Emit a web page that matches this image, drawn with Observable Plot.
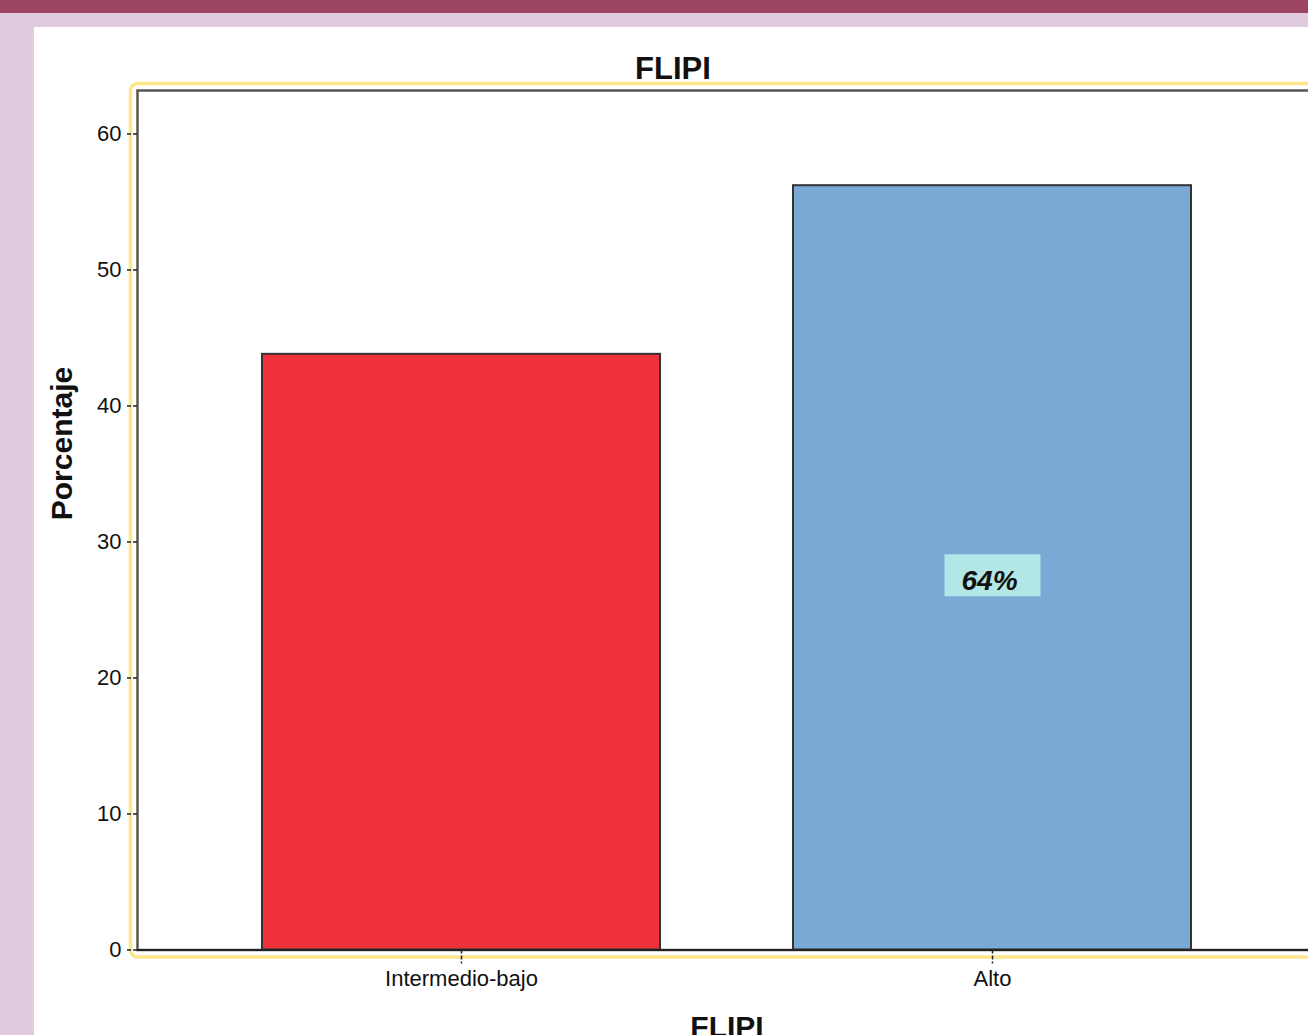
<!DOCTYPE html>
<html>
<head>
<meta charset="utf-8">
<script src="https://cdn.jsdelivr.net/npm/d3@7"></script>
<script src="https://cdn.jsdelivr.net/npm/@observablehq/plot@0.6"></script>
<style>
  html, body { margin: 0; padding: 0; }
  body { width: 1308px; height: 1035px; overflow: hidden; position: relative; background: #dfcade; font-family: "Liberation Sans", Arial, sans-serif; }
  #topbar { position: absolute; left: 0; top: 0; width: 100%; height: 13px; background: #9c4563; }
  #panel { position: absolute; left: 34px; top: 27px; right: 0; bottom: 0; background: #ffffff; }
  #chart { position: absolute; left: 0; top: 0; width: 1330px; }
  #chart svg { max-width: none !important; }
</style>
</head>
<body>
<div id="topbar"></div>
<div id="panel"></div>
<div id="chart"></div>
<script>
const categories = ["Intermedio-bajo", "Alto"];
const values = [43.8, 56.2];
const barColors = ["#ef3139", "#7aa9d6"];
const barLabels = ["", "64%"];
const yTicks = [0, 10, 20, 30, 40, 50, 60];
const chartTitle = "FLIPI";
const xTitle = "FLIPI";
const yTitle = "Porcentaje";

const data = categories.map((c, i) => ({cat: c, value: values[i], label: barLabels[i]}));
const labelled = data.filter(d => d.label !== "");

const boxSymbol = {
  draw(context) {
    context.rect(-48, -21, 96, 42);
  }
};

const chart = Plot.plot({
  width: 1330,
  height: 1035,
  marginLeft: 137,
  marginRight: 14,
  marginTop: 90,
  marginBottom: 85.5,
  style: {background: "transparent", fontFamily: "'Liberation Sans', Arial, sans-serif", color: "#111", maxWidth: "none"},
  x: {domain: categories, paddingInner: 0.25, paddingOuter: 0.235},
  y: {domain: [0, 63.2]},
  color: {domain: categories, range: barColors},
  marks: [
    Plot.frame({inset: -7, rx: 7, stroke: "#fde58c", strokeWidth: 3.5}),
    Plot.barY(data, {x: "cat", y: "value", fill: "cat", stroke: "#333", strokeWidth: 2}),
    Plot.frame({stroke: "#555", strokeWidth: 2.5}),
    Plot.ruleY([0], {stroke: "#222", strokeWidth: 2}),
    Plot.axisY({ticks: yTicks, tickSize: 12, tickPadding: 4, fontSize: 22, strokeDasharray: "4,2", stroke: "#222", strokeWidth: 1.5, label: null}),
    Plot.axisX({tickSize: 14, tickPadding: 6, fontSize: 22, strokeDasharray: "4,2", stroke: "#222", strokeWidth: 1.5, label: null}),
    Plot.dot(labelled, {x: "cat", y: d => d.value / 2, dy: 7.5, r: 5, symbol: boxSymbol, fill: "#b3e6e6", stroke: "none"}),
    Plot.text(labelled, {x: "cat", y: d => d.value / 2, dy: 13, dx: -3, text: "label", fontSize: 28, fontWeight: "bold", fontStyle: "italic", fill: "#111"}),
    Plot.text([chartTitle], {frameAnchor: "top", dx: -54, dy: -12, lineAnchor: "bottom", text: d => d, fontSize: 31, fontWeight: "bold", fill: "#111"}),
    Plot.text([xTitle], {frameAnchor: "bottom", dy: 66, lineAnchor: "top", text: d => d, fontSize: 30, fontWeight: "bold", fill: "#111"}),
    Plot.text([yTitle], {frameAnchor: "left", dx: -75, rotate: -90, text: d => d, fontSize: 30, fontWeight: "bold", fill: "#111"})
  ]
});
document.getElementById("chart").appendChild(chart);
</script>
</body>
</html>
